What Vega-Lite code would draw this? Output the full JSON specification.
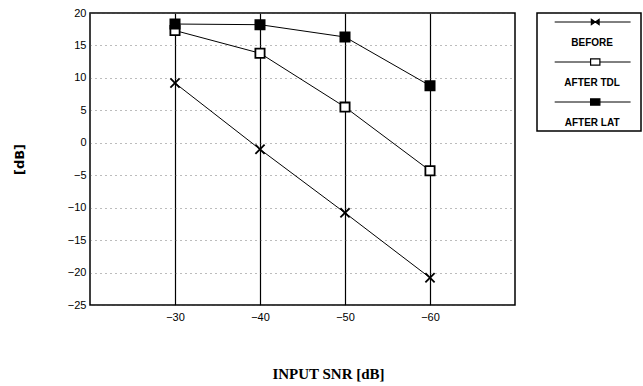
{
  "$schema": "https://vega.github.io/schema/vega-lite/v6.json",
  "background": "white",
  "padding": {"left": 12, "top": 6, "right": 0, "bottom": 0},
  "spacing": 22,
  "bounds": "flush",
  "config": {"view": {"stroke": null}, "font": "Liberation Sans"},
  "resolve": {"scale": {"shape": "independent", "fill": "independent"}},
  "datasets": {
    "snr": [
      {"series": "BEFORE", "snr": -30, "db": 9.2},
      {"series": "BEFORE", "snr": -40, "db": -1.0},
      {"series": "BEFORE", "snr": -50, "db": -10.8},
      {"series": "BEFORE", "snr": -60, "db": -20.8},
      {"series": "AFTER TDL", "snr": -30, "db": 17.3},
      {"series": "AFTER TDL", "snr": -40, "db": 13.8},
      {"series": "AFTER TDL", "snr": -50, "db": 5.5},
      {"series": "AFTER TDL", "snr": -60, "db": -4.3},
      {"series": "AFTER LAT", "snr": -30, "db": 18.3},
      {"series": "AFTER LAT", "snr": -40, "db": 18.2},
      {"series": "AFTER LAT", "snr": -50, "db": 16.3},
      {"series": "AFTER LAT", "snr": -60, "db": 8.8}
    ],
    "legend": [
      {"series": "BEFORE"},
      {"series": "AFTER TDL"},
      {"series": "AFTER LAT"}
    ]
  },
  "hconcat": [
    {
      "width": 425,
      "height": 292,
      "data": {"name": "snr"},
      "view": {"stroke": "black", "strokeWidth": 1.5},
      "encoding": {
        "x": {
          "field": "snr",
          "type": "quantitative",
          "title": "INPUT SNR [dB]",
          "scale": {"domain": [-20, -70], "nice": false, "zero": false},
          "axis": {
            "values": [-30, -40, -50, -60],
            "domain": false,
            "ticks": false,
            "labelFlush": false,
            "labelFont": "Liberation Sans",
            "labelFontSize": 11,
            "labelColor": "black",
            "labelPadding": 6,
            "grid": true,
            "gridColor": "black",
            "gridWidth": 1.2,
            "gridOpacity": 1,
            "titleFont": "Liberation Serif",
            "titleFontSize": 15,
            "titleFontWeight": "bold",
            "titleColor": "black",
            "titlePadding": 44,
            "titleX": 238
          }
        },
        "y": {
          "field": "db",
          "type": "quantitative",
          "title": "[dB]",
          "scale": {"domain": [-25, 20], "nice": false, "zero": false},
          "axis": {
            "values": [-25, -20, -15, -10, -5, 0, 5, 10, 15, 20],
            "domain": false,
            "ticks": false,
            "labelFlush": false,
            "labelFont": "Liberation Sans",
            "labelFontSize": 11,
            "labelColor": "black",
            "labelPadding": 4,
            "grid": true,
            "gridColor": "#555555",
            "gridWidth": 0.8,
            "gridDash": [1, 4],
            "gridOpacity": 1,
            "titleFont": "DejaVu Sans",
            "titleFontSize": 13,
            "titleFontWeight": "bold",
            "titleColor": "black",
            "titlePadding": 41
          }
        }
      },
      "layer": [
        {
          "mark": {"type": "line", "color": "black", "strokeWidth": 1},
          "encoding": {"detail": {"field": "series", "type": "nominal"}}
        },
        {
          "mark": {"type": "point", "opacity": 1, "stroke": "black", "strokeWidth": 1.8, "size": 85},
          "encoding": {
            "shape": {
              "field": "series",
              "type": "nominal",
              "scale": {
                "domain": ["BEFORE", "AFTER TDL", "AFTER LAT"],
                "range": ["M-1,-1L1,1M1,-1L-1,1", "square", "square"]
              },
              "legend": null
            },
            "fill": {
              "field": "series",
              "type": "nominal",
              "scale": {
                "domain": ["BEFORE", "AFTER TDL", "AFTER LAT"],
                "range": ["black", "white", "black"]
              },
              "legend": null
            }
          }
        }
      ]
    },
    {
      "width": 104,
      "height": 118,
      "data": {"name": "legend"},
      "view": {"stroke": "black", "strokeWidth": 1.5},
      "encoding": {
        "y": {
          "field": "series",
          "type": "nominal",
          "scale": {
            "type": "point",
            "domain": ["BEFORE", "AFTER TDL", "AFTER LAT"],
            "padding": 0.475,
            "align": 0.237
          },
          "axis": null
        }
      },
      "layer": [
        {
          "mark": {"type": "rule", "color": "black", "strokeWidth": 1},
          "encoding": {
            "x": {
              "datum": 0.17,
              "type": "quantitative",
              "scale": {"domain": [0, 1], "nice": false, "zero": false},
              "axis": null
            },
            "x2": {"datum": 0.9}
          }
        },
        {
          "mark": {"type": "point", "opacity": 1, "stroke": "black", "strokeWidth": 1.2, "size": 60},
          "encoding": {
            "x": {"datum": 0.56, "type": "quantitative"},
            "shape": {
              "field": "series",
              "type": "nominal",
              "scale": {
                "domain": ["BEFORE", "AFTER TDL", "AFTER LAT"],
                "range": ["M-1,-0.7L1,0.7L1,-0.7L-1,0.7Z", "M-1.2,-0.8L1.2,-0.8L1.2,0.8L-1.2,0.8Z", "M-1.2,-0.8L1.2,-0.8L1.2,0.8L-1.2,0.8Z"]
              },
              "legend": null
            },
            "fill": {
              "field": "series",
              "type": "nominal",
              "scale": {
                "domain": ["BEFORE", "AFTER TDL", "AFTER LAT"],
                "range": ["black", "white", "black"]
              },
              "legend": null
            }
          }
        },
        {
          "mark": {"type": "text", "dy": 21, "font": "Liberation Sans", "fontSize": 10, "fontWeight": "bold", "color": "black"},
          "encoding": {
            "x": {"datum": 0.53, "type": "quantitative"},
            "text": {"field": "series", "type": "nominal"}
          }
        }
      ]
    }
  ]
}
